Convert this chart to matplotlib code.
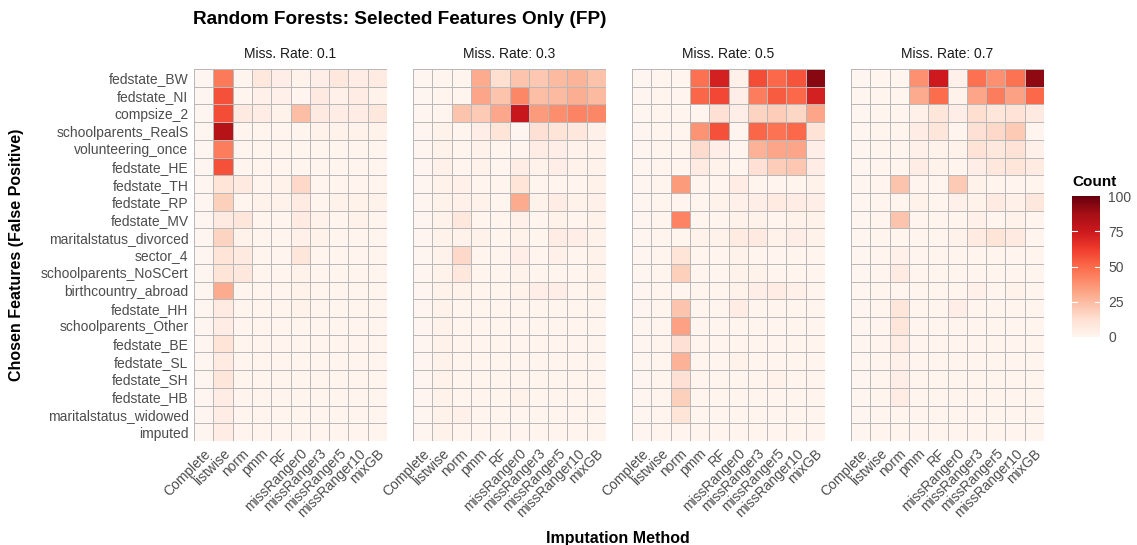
import numpy as np
import matplotlib.pyplot as plt

plt.rcParams['font.family'] = ['Liberation Sans', 'DejaVu Sans']

features = ['fedstate_BW', 'fedstate_NI', 'compsize_2', 'schoolparents_RealS',
            'volunteering_once', 'fedstate_HE', 'fedstate_TH', 'fedstate_RP',
            'fedstate_MV', 'maritalstatus_divorced', 'sector_4',
            'schoolparents_NoSCert', 'birthcountry_abroad', 'fedstate_HH',
            'schoolparents_Other', 'fedstate_BE', 'fedstate_SL', 'fedstate_SH',
            'fedstate_HB', 'maritalstatus_widowed', 'imputed']
methods = ['Complete', 'listwise', 'norm', 'pmm', 'RF', 'missRanger0',
           'missRanger3', 'missRanger5', 'missRanger10', 'mixGB']
rates = ['0.1', '0.3', '0.5', '0.7']

# counts per feature (rows) and method (columns)
counts_01 = [
    [0, 45, 1, 8, 4, 2, 4, 8, 5, 6],
    [0, 57, 1, 3, 3, 1, 7, 3, 5, 2],
    [0, 58, 7, 5, 2, 24, 7, 5, 5, 8],
    [0, 82, 1, 1, 1, 1, 2, 2, 2, 2],
    [0, 44, 1, 1, 1, 1, 1, 1, 1, 1],
    [0, 57, 1, 1, 1, 1, 1, 1, 1, 1],
    [0, 10, 7, 1, 2, 15, 1, 1, 1, 1],
    [0, 18, 1, 2, 2, 6, 1, 2, 2, 2],
    [0, 7, 9, 1, 1, 6, 2, 1, 2, 1],
    [0, 17, 2, 1, 1, 3, 2, 1, 1, 1],
    [0, 10, 7, 1, 1, 9, 1, 1, 1, 1],
    [0, 10, 8, 1, 1, 2, 1, 1, 1, 1],
    [0, 30, 1, 1, 1, 2, 1, 1, 1, 1],
    [0, 6, 1, 1, 1, 2, 1, 1, 1, 1],
    [0, 5, 1, 1, 1, 1, 1, 1, 1, 1],
    [0, 10, 1, 1, 1, 1, 1, 1, 1, 1],
    [0, 6, 1, 1, 1, 1, 1, 1, 1, 1],
    [0, 9, 1, 1, 1, 1, 1, 1, 1, 1],
    [0, 5, 1, 1, 1, 1, 1, 1, 1, 1],
    [0, 5, 1, 1, 1, 1, 1, 1, 1, 1],
    [0, 5, 1, 1, 1, 1, 1, 1, 1, 1],
]
counts_03 = [
    [0, 1, 1, 30, 13, 22, 21, 25, 27, 23],
    [0, 1, 1, 32, 22, 41, 24, 25, 29, 25],
    [0, 1, 22, 20, 31, 76, 35, 39, 42, 41],
    [0, 2, 1, 4, 10, 0, 12, 10, 8, 3],
    [0, 2, 1, 2, 1, 1, 5, 4, 2, 2],
    [0, 3, 1, 2, 1, 5, 2, 4, 2, 2],
    [0, 2, 3, 1, 1, 10, 1, 1, 1, 2],
    [0, 2, 3, 2, 1, 30, 2, 5, 2, 3],
    [0, 2, 8, 1, 1, 3, 1, 2, 1, 2],
    [0, 2, 2, 2, 1, 2, 1, 5, 4, 2],
    [0, 2, 15, 1, 1, 4, 1, 3, 1, 2],
    [0, 2, 8, 1, 1, 2, 1, 1, 1, 2],
    [0, 2, 2, 1, 1, 2, 4, 4, 1, 2],
    [0, 2, 1, 1, 1, 1, 1, 1, 1, 1],
    [0, 2, 1, 1, 1, 1, 1, 1, 1, 1],
    [0, 2, 1, 1, 1, 1, 1, 1, 1, 1],
    [0, 2, 1, 1, 1, 1, 1, 1, 1, 1],
    [0, 2, 1, 1, 1, 1, 1, 1, 1, 1],
    [0, 2, 1, 1, 1, 2, 1, 1, 1, 1],
    [0, 2, 3, 1, 1, 1, 1, 1, 1, 1],
    [0, 2, 1, 1, 1, 1, 1, 1, 1, 1],
]
counts_05 = [
    [0, 1, 1, 48, 72, 3, 58, 50, 56, 93],
    [0, 1, 1, 51, 59, 4, 44, 54, 50, 72],
    [0, 1, 1, 1, 12, 4, 17, 19, 16, 32],
    [0, 1, 1, 37, 57, 1, 51, 47, 50, 11],
    [0, 1, 1, 14, 4, 1, 28, 32, 32, 4],
    [0, 1, 1, 6, 2, 1, 12, 19, 21, 5],
    [0, 1, 35, 1, 1, 5, 1, 1, 1, 2],
    [0, 1, 1, 1, 2, 3, 4, 6, 5, 4],
    [0, 1, 42, 1, 1, 2, 2, 1, 2, 2],
    [0, 1, 1, 2, 2, 6, 7, 2, 4, 2],
    [0, 1, 10, 1, 1, 2, 1, 1, 1, 1],
    [0, 1, 18, 1, 1, 2, 2, 1, 1, 1],
    [0, 1, 1, 1, 1, 2, 4, 5, 3, 1],
    [0, 1, 22, 1, 1, 5, 1, 1, 1, 1],
    [0, 1, 33, 1, 1, 1, 1, 1, 1, 1],
    [0, 1, 12, 1, 1, 1, 1, 1, 1, 1],
    [0, 1, 28, 1, 1, 2, 1, 1, 1, 1],
    [0, 1, 12, 1, 1, 1, 1, 2, 1, 1],
    [0, 1, 18, 1, 1, 1, 1, 1, 1, 1],
    [0, 1, 10, 1, 1, 1, 1, 1, 1, 1],
    [0, 1, 1, 1, 1, 1, 1, 1, 1, 1],
]
counts_07 = [
    [0, 1, 1, 38, 74, 3, 48, 38, 47, 92],
    [0, 1, 1, 30, 49, 2, 32, 44, 33, 50],
    [0, 1, 1, 3, 9, 4, 13, 9, 11, 7],
    [0, 1, 1, 5, 9, 1, 12, 15, 20, 1],
    [0, 1, 1, 3, 2, 2, 11, 8, 11, 3],
    [0, 1, 1, 5, 2, 1, 4, 8, 9, 6],
    [0, 1, 22, 1, 1, 20, 2, 1, 1, 1],
    [0, 1, 1, 2, 1, 3, 2, 6, 3, 8],
    [0, 1, 22, 1, 1, 1, 3, 1, 2, 1],
    [0, 1, 1, 1, 1, 2, 6, 10, 7, 1],
    [0, 1, 3, 1, 1, 1, 1, 1, 1, 1],
    [0, 1, 6, 1, 1, 1, 1, 1, 1, 1],
    [0, 1, 1, 1, 1, 1, 3, 1, 2, 1],
    [0, 1, 9, 1, 1, 4, 1, 1, 1, 1],
    [0, 1, 9, 1, 1, 1, 1, 1, 1, 1],
    [0, 1, 5, 1, 1, 1, 1, 1, 1, 1],
    [0, 1, 3, 1, 1, 1, 1, 1, 1, 1],
    [0, 1, 4, 1, 1, 1, 1, 1, 1, 1],
    [0, 1, 5, 1, 1, 1, 1, 1, 1, 1],
    [0, 1, 1, 1, 1, 1, 1, 1, 1, 1],
    [0, 1, 1, 1, 1, 1, 1, 1, 1, 1],
]
all_counts = [counts_01, counts_03, counts_05, counts_07]

W, H = 1137, 545
fig = plt.figure(figsize=(W / 100, H / 100), dpi=100)

panel_left = [194, 413, 632, 851]
panel_w = 193
top, bottom = 69, 441

mesh = None
for i, (rate, counts) in enumerate(zip(rates, all_counts)):
    ax = fig.add_axes([panel_left[i] / W, 1 - bottom / H, panel_w / W, (bottom - top) / H])
    data = np.array(counts, dtype=float)
    mesh = ax.pcolormesh(np.arange(len(methods) + 1), np.arange(len(features) + 1), data,
                         cmap='Reds', vmin=0, vmax=100,
                         edgecolors='#b8b8b8', linewidth=0.6)
    ax.set_xlim(0, len(methods))
    ax.set_ylim(len(features), 0)
    ax.set_xticks(np.arange(len(methods)) + 0.5)
    ax.set_xticklabels(methods, rotation=45, ha='right', va='top',
                       rotation_mode='anchor', color='#4d4d4d', fontsize=10)
    ax.set_yticks(np.arange(len(features)) + 0.5)
    if i == 0:
        ax.set_yticklabels(features, color='#4d4d4d', fontsize=10)
    else:
        ax.set_yticklabels([])
    ax.tick_params(length=0, pad=4)
    for s in ax.spines.values():
        s.set_visible(False)
    ax.set_title('Miss. Rate: ' + rate, fontsize=10, color='#1a1a1a', pad=8)

fig.text(193 / W, 1 - 20 / H, 'Random Forests: Selected Features Only (FP)',
         fontsize=13.7, fontweight='bold', ha='left', va='center')
fig.text(618 / W, 1 - 538 / H, 'Imputation Method', fontsize=11.5,
         fontweight='bold', ha='center', va='center')
fig.text(17 / W, 1 - 255 / H, 'Chosen Features (False Positive)', fontsize=11.5,
         fontweight='bold', ha='center', va='center', rotation=90)

cax = fig.add_axes([1072 / W, 1 - 337 / H, 28 / W, 141 / H])
cb = fig.colorbar(mesh, cax=cax, ticks=[0, 25, 50, 75, 100])
cb.outline.set_visible(False)
cb.ax.tick_params(length=0, labelsize=10, labelcolor='#4d4d4d', pad=6)
for t in [25, 50, 75]:
    cax.plot([0, 0.18], [t, t], color='white', lw=0.8, transform=cax.get_yaxis_transform())
    cax.plot([0.82, 1], [t, t], color='white', lw=0.8, transform=cax.get_yaxis_transform())
fig.text(1072 / W, 1 - 182 / H, 'Count', fontsize=11, fontweight='bold',
         ha='left', va='center')

fig.savefig('out.png', dpi=100, facecolor='white')
